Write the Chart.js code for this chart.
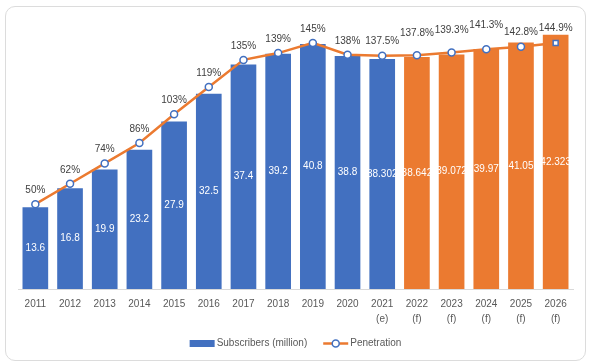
<!DOCTYPE html>
<html>
<head>
<meta charset="utf-8">
<script src="https://cdn.jsdelivr.net/npm/chart.js@4"></script>
<style>
  body { margin: 0; background: #fff; }
  #card { position: absolute; left: 5px; top: 6px; width: 579px; height: 353px; border: 1px solid #dcdcdc; border-radius: 10px; }
  #wrap { position: absolute; left: 0; top: 0; width: 600px; height: 364px; }
</style>
</head>
<body>
<div id="card"></div>
<div id="wrap"><canvas id="myChart"></canvas></div>
<script>
const years = ['2011', '2012', '2013', '2014', '2015', '2016', '2017', '2018', '2019', '2020',
  ['2021', '(e)'], ['2022', '(f)'], ['2023', '(f)'], ['2024', '(f)'], ['2025', '(f)'], ['2026', '(f)']]
const subscribers = [13.6, 16.8, 19.9, 23.2, 27.9, 32.5, 37.4, 39.2, 40.8, 38.8, 38.302, 38.642, 39.072, 39.97, 41.05, 42.323]
const penetration = [50, 62, 74, 86, 103, 119, 135, 139, 145, 138, 137.5, 137.8, 139.3, 141.3, 142.8, 144.9]

const BLUE = '#4270C0'
const ORANGE = '#EB7A30'
const FONT = '"Liberation Sans", Arial, sans-serif'

// forecast years get the orange bars
const barColors = years.map(y => (Array.isArray(y) && y[1] === '(f)') ? ORANGE : BLUE)
const pointStyles = penetration.map((v, i) => i === penetration.length - 1 ? 'rect' : 'circle')

// how far above each marker the % label sits
const pctOffsets = [14, 14, 14, 14, 14, 14, 14, 14, 14, 14, 14, 22, 22, 24, 14, 15]

const labelPlugin = {
  id: 'valueLabels',
  afterDatasetsDraw(chart) {
    const ctx = chart.ctx
    const bars = chart.getDatasetMeta(0).data
    const pts = chart.getDatasetMeta(1).data
    ctx.save()
    ctx.textAlign = 'center'
    ctx.textBaseline = 'middle'
    ctx.font = '10px ' + FONT
    ctx.fillStyle = '#ffffff'
    bars.forEach((b, i) => {
      ctx.fillText(String(subscribers[i]), b.x, (b.y + b.base) / 2)
    })
    ctx.fillStyle = '#404040'
    pts.forEach((p, i) => {
      ctx.fillText(penetration[i] + '%', p.x, p.y - pctOffsets[i])
    })
    ctx.restore()
  },
  afterDraw(chart) {
    // legend: bar swatch + line-with-marker swatch
    const ctx = chart.ctx
    const a = chart.chartArea
    ctx.save()
    ctx.font = '10px ' + FONT
    const t1 = 'Subscribers (million)'
    const t2 = 'Penetration'
    const w1 = ctx.measureText(t1).width
    const w2 = ctx.measureText(t2).width
    const total = 25 + 2 + w1 + 16 + 25 + 2 + w2
    let x = (a.left + a.right) / 2 - total / 2
    const y = 343.5
    ctx.fillStyle = BLUE
    ctx.fillRect(x, y - 3.5, 25, 7)
    x += 27
    ctx.fillStyle = '#595959'
    ctx.textBaseline = 'middle'
    ctx.fillText(t1, x, y)
    x += w1 + 16
    ctx.strokeStyle = ORANGE
    ctx.lineWidth = 2.5
    ctx.beginPath()
    ctx.moveTo(x, y)
    ctx.lineTo(x + 25, y)
    ctx.stroke()
    ctx.beginPath()
    ctx.arc(x + 12.5, y, 3.5, 0, Math.PI * 2)
    ctx.fillStyle = '#fff'
    ctx.fill()
    ctx.strokeStyle = BLUE
    ctx.lineWidth = 1.5
    ctx.stroke()
    x += 27
    ctx.fillStyle = '#595959'
    ctx.fillText(t2, x, y)
    ctx.restore()
  }
}

function createChart() {
  const ctx = document.getElementById('myChart')
  new Chart(ctx, {
    type: 'bar',
    data: {
      labels: years,
      datasets: [{
        label: 'Subscribers (million)',
        data: subscribers,
        backgroundColor: barColors,
        categoryPercentage: 1,
        barPercentage: 0.74,
        yAxisID: 'y',
        order: 2
      }, {
        type: 'line',
        label: 'Penetration',
        data: penetration,
        borderColor: ORANGE,
        borderWidth: 2.5,
        pointStyle: pointStyles,
        pointRadius: 3.5,
        pointBackgroundColor: '#ffffff',
        pointBorderColor: BLUE,
        pointBorderWidth: 1.5,
        tension: 0,
        yAxisID: 'y1',
        order: 1
      }]
    },
    options: {
      responsive: true,
      maintainAspectRatio: false,
      animation: false,
      layout: { padding: { left: 18, right: 27, top: 20, bottom: 29 } },
      plugins: {
        legend: { display: false },
        tooltip: { enabled: false }
      },
      scales: {
        x: {
          grid: { display: false, drawTicks: false },
          border: { display: true, color: '#d9d9d9' },
          ticks: {
            color: '#595959',
            padding: 8,
            maxRotation: 0,
            autoSkip: false,
            font: { family: FONT, size: 10, lineHeight: 1.5 }
          }
        },
        y: { display: false, min: 0, max: 44.8 },
        y1: { display: false, min: 0, max: 158.5 }
      }
    },
    plugins: [labelPlugin]
  })
}

createChart()
</script>
</body>
</html>
